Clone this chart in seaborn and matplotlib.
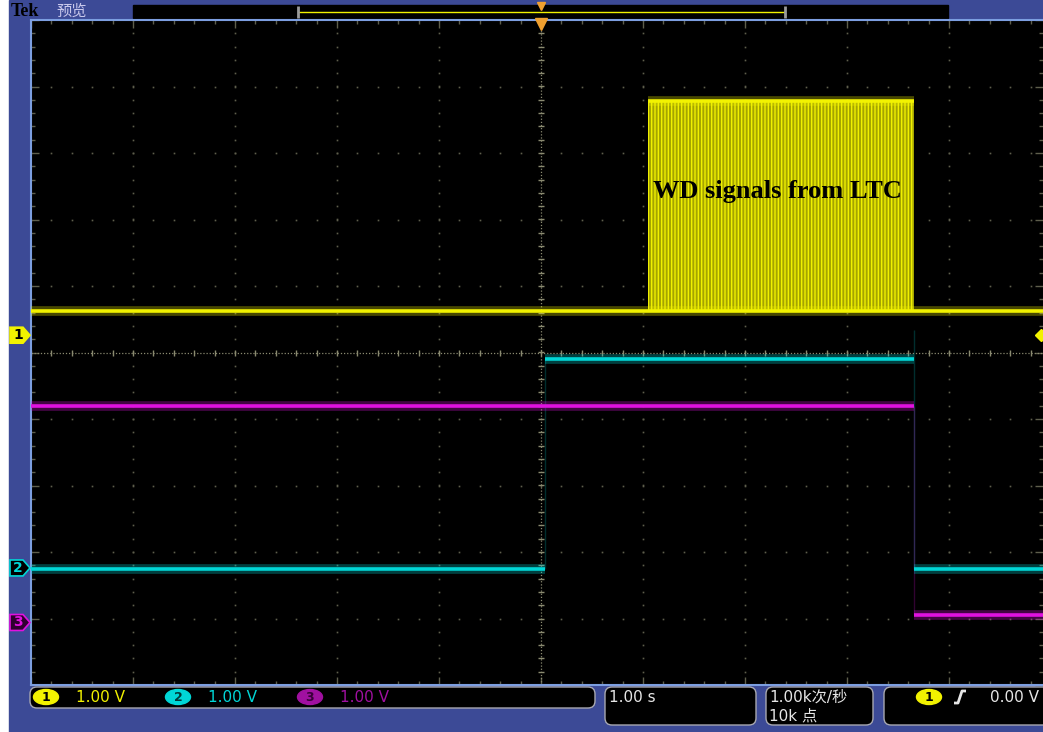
import matplotlib
matplotlib.use("Agg")
import matplotlib.pyplot as plt
from matplotlib.patches import Rectangle, FancyBboxPatch, Polygon, Ellipse
from matplotlib.transforms import blended_transform_factory
import numpy as np
import pandas as pd
import seaborn as sns

# time in s (1.00 s/div, trigger at 0); volts (1.00 V/div, screen centre = 0)
CH1_BASE = 0.62
BURST_T = [1.05, 3.66]
BURST_TOP = 3.78
CH2_T = [-5.0, 0.04, 3.66, 4.93]
CH2_V = [-3.26, -0.10, -3.26]
CH2_SPIKE = 0.34
CH3_T = [-5.0, 3.66, 4.93]
CH3_V = [-0.80, -3.95]
CHANNELS = ["1", "2", "3"]
GROUND = [0.26, -3.24, -4.06]
VOLTS_DIV = ["1.00 V", "1.00 V", "1.00 V"]
TIME_DIV = "1.00 s"
RATE = ["1.00k次/秒", "10k 点"]
TRIG_LEVEL = "0.00 V"
LABEL = "WD signals from LTC"

W, H = 1043, 732
YEL, CYA, MAG = "#f2f200", "#00d6d6", "#e012e0"
BLUE, EDGE, GRID = "#3c4a96", "#7c9ee0", "#5e5e4c"

sns.set_style("dark")
plt.rcParams["font.family"] = ["DejaVu Sans", "Noto Sans CJK SC"]
plt.rcParams["hatch.linewidth"] = 1.0
plt.rcParams["lines.solid_capstyle"] = "butt"


def segments(name, t, v, start):
    rows = []
    for i, lev in enumerate(v):
        rows += [(name, start + i, t[i], lev), (name, start + i, t[i + 1], lev)]
    return rows


traces = pd.DataFrame(
    segments("1", [CH2_T[0], CH2_T[-1]], [CH1_BASE], 0)
    + segments("1", BURST_T, [BURST_TOP], 1)
    + segments("2", CH2_T, CH2_V, 0)
    + segments("3", CH3_T, CH3_V, 0),
    columns=["ch", "seg", "t", "v"],
)
edges = pd.DataFrame(
    [("2", 0, CH2_T[1], CH2_V[0]), ("2", 0, CH2_T[1], CH2_V[1]),
     ("2", 1, CH2_T[2], CH2_SPIKE), ("2", 1, CH2_T[2], CH2_V[2]),
     ("3", 0, CH3_T[1], CH3_V[0]), ("3", 0, CH3_T[1], CH3_V[1])],
    columns=["ch", "seg", "t", "v"],
)

fig = plt.figure(figsize=(W / 100, H / 100), dpi=100, facecolor="white")

# screen chrome in pixel coordinates
bg = fig.add_axes([0, 0, 1, 1], zorder=0)
bg.set_xlim(0, W)
bg.set_ylim(H, 0)
bg.axis("off")
bg.add_patch(Rectangle((9, 0), W - 9, H, color=BLUE))
bg.add_patch(Rectangle((133, 5), 815, 13, color="black"))
bg.plot([298, 785], [12, 12], color=YEL, lw=1)
for bx in (298, 785):
    bg.plot([bx, bx], [6, 18], color="#9a9a9a", lw=2)
bg.plot([541], [6], marker="v", color="#f0a030", ms=6)
bg.text(11, 11, "Tek", fontsize=13, fontweight="bold", family="Liberation Serif",
        color="black", va="center")
bg.text(56, 11, "预览", fontsize=11, family="Noto Sans CJK SC", color="#c8c8ec", va="center")

boxes = [(30, 687, 565, 21), (605, 687, 151, 38), (766, 687, 107, 38), (884, 687, 200, 38)]
for x0, y0, w, h in boxes:
    bg.add_patch(FancyBboxPatch((x0, y0), w, h, boxstyle="round,pad=0,rounding_size=7",
                                fc="black", ec="#a8a8b0", lw=1))
badge_fc = [YEL, CYA, "#a010a0"]
badge_tc = ["black", "#003838", "#380038"]
text_c = [YEL, CYA, "#a010a0"]
for i, (ch, vd) in enumerate(zip(CHANNELS, VOLTS_DIV)):
    cx = 46 + i * 132
    bg.add_patch(Ellipse((cx, 697), 25, 15, color=badge_fc[i]))
    bg.text(cx, 697.5, ch, fontsize=9, fontweight="bold", color=badge_tc[i], ha="center", va="center")
    bg.text(cx + 30, 697.5, vd, fontsize=11, color=text_c[i], va="center")
bg.text(609, 697.5, TIME_DIV, fontsize=11, color="#e6e6e6", va="center")
bg.text(769, 697.5, RATE[0], fontsize=11, color="#e6e6e6", va="center")
bg.text(769, 716, RATE[1], fontsize=11, color="#e6e6e6", va="center")
bg.add_patch(Ellipse((929, 697), 25, 15, color=YEL))
bg.text(929, 697.5, CHANNELS[0], fontsize=9, fontweight="bold", color="black", ha="center", va="center")
bg.plot([954, 958, 962, 966], [703, 703, 691, 691], color="#e6e6e6", lw=2)
bg.text(990, 697.5, TRIG_LEVEL, fontsize=11, color="#e6e6e6", va="center")

# graticule / traces
ax = fig.add_axes([31 / W, (H - 685) / H, (W - 31) / W, 665 / H], zorder=1)
ax.set_facecolor("black")

fine = np.arange(-5, 5.01, 0.2)
for k in range(-4, 5):
    if k == 0:
        continue
    ax.plot(np.full_like(fine, k), fine, ls="none", marker="s", ms=1.2, color=GRID, mew=0)
    ax.plot(fine, np.full_like(fine, k), ls="none", marker="s", ms=1.2, color=GRID, mew=0)
ax.axhline(0, color="#8a8a70", lw=0.9, ls=(0, (1, 1.5)))
ax.axvline(0, color="#8a8a70", lw=0.9, ls=(0, (1, 1.5)))
ax.plot(fine, np.zeros_like(fine), ls="none", marker="|", ms=5, color="#8a8a70")
ax.plot(np.zeros_like(fine), fine, ls="none", marker="_", ms=5, color="#8a8a70")

ax.fill_between(BURST_T, CH1_BASE, BURST_TOP, facecolor="#a4a400", edgecolor="#f0f000",
                hatch="|||||", lw=0, zorder=3)

colors = {"1": YEL, "2": CYA, "3": MAG}
for ch in CHANNELS:
    sub = edges[edges["ch"] == ch]
    if len(sub):
        sns.lineplot(data=sub, x="t", y="v", units="seg", estimator=None, color=colors[ch],
                     lw=1, alpha=0.22, ax=ax, legend=False, sort=False, zorder=3)
    sub = traces[traces["ch"] == ch]
    sns.lineplot(data=sub, x="t", y="v", units="seg", estimator=None, color=colors[ch],
                 lw=7, alpha=0.3, ax=ax, legend=False, sort=False, zorder=4)
    sns.lineplot(data=sub, x="t", y="v", units="seg", estimator=None, color=colors[ch],
                 lw=2.6, ax=ax, legend=False, sort=False, zorder=5)

ax.text(2.32, 2.42, LABEL, family="Liberation Serif", fontweight="bold", fontsize=19,
        color="black", ha="center", va="center", zorder=6)

ax.set_xticks(np.arange(-5, 6, 1.0))
ax.set_yticks(np.arange(-5, 6, 1.0))
ax.set_xticks(fine, minor=True)
ax.set_yticks(fine, minor=True)
ax.set_xlim(-5, -5 + (W - 31) / 102)
ax.set_ylim(-5, 5)
ax.tick_params(which="both", direction="in", top=True, right=True, bottom=True, left=True,
               labelbottom=False, labelleft=False, color=GRID, width=1)
ax.tick_params(which="major", length=6)
ax.tick_params(which="minor", length=3)
ax.set_xlabel("")
ax.set_ylabel("")
for side in ax.spines.values():
    side.set_color(EDGE)
    side.set_linewidth(1.5)
ax.spines["right"].set_visible(False)

# channel ground markers on the left, trigger markers
mk = blended_transform_factory(bg.transData, ax.transData)
fill = [YEL, "black", "#300030"]
line = [YEL, CYA, MAG]
txt = ["black", CYA, MAG]
for ch, g, f, l, t in zip(CHANNELS, GROUND, fill, line, txt):
    d = 0.12
    ax.add_patch(Polygon([(10, g + d), (23, g + d), (30, g), (23, g - d), (10, g - d)],
                         closed=True, fc=f, ec=l, lw=1.2, transform=mk, clip_on=False, zorder=6))
    ax.text(18, g, ch, fontsize=10, fontweight="bold", color=t, ha="center", va="center",
            transform=mk, clip_on=False, zorder=7)
ax.plot([1041], [GROUND[0]], marker="D", ms=6, color=YEL, transform=mk, clip_on=False, zorder=6)
top = blended_transform_factory(ax.transData, bg.transData)
ax.plot([0], [24], marker="v", ms=9, color="#f0a030", transform=top, clip_on=False, zorder=6)

fig.savefig("out.png", dpi=100, facecolor="white")
